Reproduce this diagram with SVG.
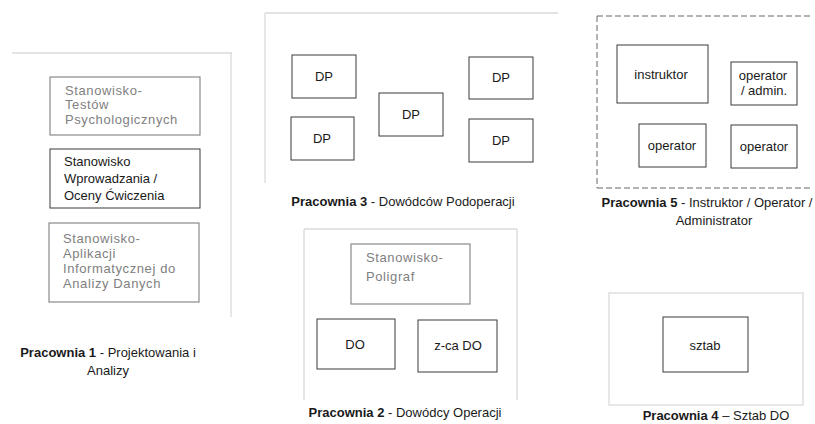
<svg xmlns="http://www.w3.org/2000/svg" width="815" height="424" viewBox="0 0 815 424">
<style>
text{font-family:"Liberation Sans",Arial,sans-serif;font-size:13px;fill:#1a1a1a}
.frame{fill:none;stroke:#dadada;stroke-width:1.3}
.dash{fill:none;stroke:#666;stroke-width:1;stroke-dasharray:6 3}
.box{fill:#fff;stroke:#3a3a3a;stroke-width:1}
.gbox{fill:#fff;stroke:#8a8a8a;stroke-width:1.2}
.gt{font-size:13px;fill:#808080;letter-spacing:0.6px}
.c{text-anchor:middle}
.b{font-weight:bold}
</style>
<rect width="815" height="424" fill="#fff"/>
<g id="frames">
<path class="frame" d="M12 53H232M231 53V317"/>
<path class="frame" d="M265 13H558M265 13V183"/>
<path class="frame" d="M304 229H517M304 229V400M517 229V400"/>
<rect class="frame" x="609" y="293" width="194" height="112"/>
<path class="dash" d="M597 16H813M597 16V188M597 188H813"/>
</g>
<g id="connectors"/>
<g id="p1-testy"><rect class="gbox" x="50" y="77" width="150" height="58"/>
<text class="gt" x="65" y="95">Stanowisko-</text><text class="gt" x="65" y="109">Testów</text><text class="gt" x="65" y="124">Psychologicznych</text></g>
<g id="p1-wprowadzanie"><rect class="box" x="50" y="149" width="150" height="59"/>
<text x="64" y="166">Stanowisko</text><text x="64" y="183">Wprowadzania /</text><text x="64" y="200">Oceny Ćwiczenia</text></g>
<g id="p1-aplikacja"><rect class="gbox" x="49" y="223" width="150" height="79"/>
<text class="gt" x="63" y="243">Stanowisko-</text><text class="gt" x="63" y="258">Aplikacji</text><text class="gt" x="63" y="273">Informatycznej do</text><text class="gt" x="63" y="288">Analizy Danych</text></g>
<g id="p1-label"><text class="c" x="108" y="357"><tspan class="b">Pracownia 1</tspan> - Projektowania i</text><text class="c" x="108" y="375">Analizy</text></g>
<g id="p3-dp1"><rect class="box" x="292" y="55" width="64" height="43"/><text class="c" x="324" y="81">DP</text></g>
<g id="p3-dp2"><rect class="box" x="291" y="117" width="63" height="43"/><text class="c" x="322" y="143">DP</text></g>
<g id="p3-dp3"><rect class="box" x="379" y="93" width="64" height="43"/><text class="c" x="411" y="119">DP</text></g>
<g id="p3-dp4"><rect class="box" x="469" y="57" width="64" height="42"/><text class="c" x="501" y="82">DP</text></g>
<g id="p3-dp5"><rect class="box" x="469" y="119" width="64" height="43"/><text class="c" x="501" y="145">DP</text></g>
<g id="p3-label"><text class="c" x="403" y="206"><tspan class="b">Pracownia 3</tspan> - Dowódców Podoperacji</text></g>
<g id="p5-instruktor"><rect class="box" x="617" y="45" width="91" height="58"/><text class="c" x="661" y="79">instruktor</text></g>
<g id="p5-admin"><rect class="box" x="731" y="62" width="66" height="43"/><text class="c" x="763" y="80">operator</text><text class="c" x="764" y="95">/ admin.</text></g>
<g id="p5-operator1"><rect class="box" x="639" y="124" width="67" height="43"/><text class="c" x="672" y="150">operator</text></g>
<g id="p5-operator2"><rect class="box" x="731" y="125" width="66" height="43"/><text class="c" x="764" y="151">operator</text></g>
<g id="p5-label"><text class="c" x="707" y="207"><tspan class="b">Pracownia 5</tspan> - Instruktor / Operator /</text><text class="c" x="714" y="225">Administrator</text></g>
<g id="p2-poligraf"><rect class="gbox" x="351" y="244" width="119" height="60"/><text class="gt" x="366" y="262">Stanowisko-</text><text class="gt" x="366" y="281">Poligraf</text></g>
<g id="p2-do"><rect class="box" x="317" y="319" width="78" height="50"/><text class="c" x="355" y="349">DO</text></g>
<g id="p2-zcado"><rect class="box" x="418" y="320" width="79" height="52"/><text class="c" x="458" y="350">z-ca DO</text></g>
<g id="p2-label"><text class="c" x="405" y="417"><tspan class="b">Pracownia 2</tspan> - Dowódcy Operacji</text></g>
<g id="p4-sztab"><rect class="box" x="663" y="317" width="85" height="55"/><text class="c" x="705" y="350">sztab</text></g>
<g id="p4-label"><text class="c" x="716" y="420"><tspan class="b">Pracownia 4</tspan> – Sztab DO</text></g>
</svg>
